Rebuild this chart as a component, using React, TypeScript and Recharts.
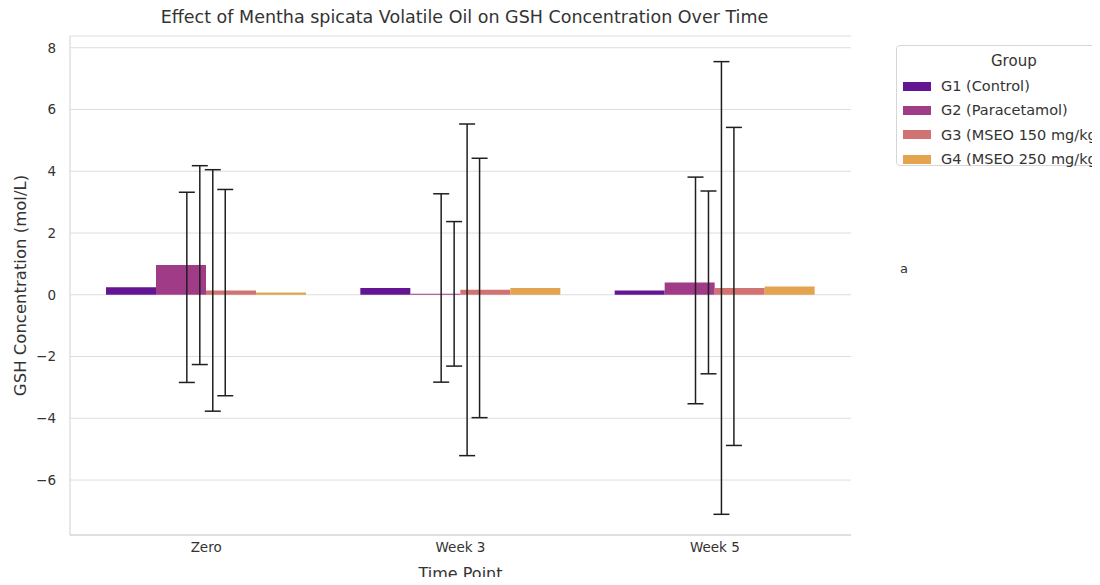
import {
  ComposedChart,
  Bar,
  Scatter,
  ErrorBar,
  XAxis,
  YAxis,
  CartesianGrid,
  Label,
} from 'recharts'

const timePoints = ['Zero', 'Week 3', 'Week 5']
const groups = ['G1 (Control)', 'G2 (Paracetamol)', 'G3 (MSEO 150 mg/kg)', 'G4 (MSEO 250 mg/kg)']
const g1Mean = [0.24, 0.22, 0.14]
const g2Mean = [0.96, 0.03, 0.4]
const g3Mean = [0.14, 0.16, 0.22]
const g4Mean = [0.07, 0.22, 0.27]
const g1Sd = [3.08, 3.05, 3.67]
const g2Sd = [3.22, 2.34, 2.96]
const g3Sd = [3.91, 5.37, 7.33]
const g4Sd = [3.34, 4.2, 5.15]
const yTicks = [-6, -4, -2, 0, 2, 4, 6, 8]

const colors = ['#641593', '#9f3b87', '#d17372', '#e3a34f']
const keys = ['g1', 'g2', 'g3', 'g4']
// error bars sit slightly off the bars, as in the source figure
const errOffsets = [-0.076, -0.025, 0.026, 0.075]

const means = [g1Mean, g2Mean, g3Mean, g4Mean]
const sds = [g1Sd, g2Sd, g3Sd, g4Sd]

const rows = timePoints.map((t, j) => {
  const r: Record<string, string | number> = { time: t }
  keys.forEach((k, i) => (r[k] = means[i][j]))
  return r
})

const errPoints = means.flatMap((m, i) =>
  timePoints.map((_, j) => ({ x: j + errOffsets[i], y: m[j], err: sds[i][j] }))
)

const font = 'DejaVu Sans, sans-serif'
const textColor = '#333'
const tickStyle = { fill: textColor, fontSize: 13.5, fontFamily: font }

function GroupLegend() {
  return (
    <div
      style={{
        position: 'absolute',
        left: 896,
        top: 45,
        width: 240,
        height: 121,
        boxSizing: 'border-box',
        border: '1px solid #d6d6d6',
        borderRadius: 4,
        padding: '4px 0 0 6px',
        fontFamily: font,
        fontSize: 14.5,
        color: textColor,
        background: '#fff',
      }}
    >
      <div style={{ paddingLeft: 88, height: 24, lineHeight: '22px', fontSize: 15 }}>Group</div>
      {groups.map((g, i) => (
        <div key={g} style={{ display: 'flex', alignItems: 'center', height: 24.3, whiteSpace: 'nowrap' }}>
          <span style={{ display: 'inline-block', width: 28, height: 9, background: colors[i], marginRight: 10 }} />
          {g}
        </div>
      ))}
    </div>
  )
}

export default function App() {
  return (
    <div style={{ margin: -8, width: 1100, height: 585, overflow: 'hidden', position: 'relative', background: '#fff' }}>
      <div
        style={{
          position: 'absolute',
          top: 7,
          left: 72,
          width: 785,
          textAlign: 'center',
          fontFamily: font,
          fontSize: 17.5,
          color: textColor,
        }}
      >
        Effect of Mentha spicata Volatile Oil on GSH Concentration Over Time
      </div>
      <div style={{ position: 'absolute', top: 261, left: 900, fontFamily: font, fontSize: 13, color: textColor }}>a</div>
      <GroupLegend />
      <ComposedChart
        width={1100}
        height={585}
        data={rows}
        margin={{ top: 36, right: 249, bottom: 0, left: 10 }}
        barCategoryGap={27}
        barGap={0}
      >
        <CartesianGrid vertical={false} stroke="#dedede" />
        <XAxis
          xAxisId="cat"
          dataKey="time"
          height={50}
          padding={{ left: 9, right: 9 }}
          tick={tickStyle}
          tickLine={false}
          tickSize={0}
          tickMargin={7}
          axisLine={{ stroke: '#d0d0d0' }}
        >
          <Label value="Time Point" position="insideBottom" offset={6} style={{ fill: textColor, fontSize: 16, fontFamily: font }} />
        </XAxis>
        <XAxis xAxisId="num" dataKey="x" type="number" domain={[-0.5, 2.5]} padding={{ left: 9, right: 9 }} hide />
        <XAxis xAxisId="top" orientation="top" height={0} tick={false} axisLine={{ stroke: '#d0d0d0' }} />
        <YAxis
          width={60}
          domain={[-7.78, 8.38]}
          ticks={yTicks}
          type="number"
          allowDataOverflow
          tick={tickStyle}
          tickFormatter={(v: number) => String(v).replace('-', '\u2212')}
          tickLine={false}
          tickSize={0}
          tickMargin={14}
          axisLine={{ stroke: '#d0d0d0' }}
        >
          <Label
            value="GSH Concentration (mol/L)"
            angle={-90}
            position="insideLeft"
            offset={10}
            style={{ textAnchor: 'middle', fill: textColor, fontSize: 16.5, fontFamily: font }}
          />
        </YAxis>
        <YAxis yAxisId="right" orientation="right" width={0} tick={false} axisLine={{ stroke: '#d0d0d0' }} />
        {keys.map((k, i) => (
          <Bar key={k} xAxisId="cat" dataKey={k} name={groups[i]} fill={colors[i]} isAnimationActive={false} />
        ))}
        <Scatter
          xAxisId="num"
          data={errPoints}
          dataKey="y"
          legendType="none"
          shape={() => <g />}
          isAnimationActive={false}
        >
          <ErrorBar dataKey="err" direction="y" width={8} stroke="#1f1f1f" strokeWidth={1.5} isAnimationActive={false} />
        </Scatter>
      </ComposedChart>
    </div>
  )
}
